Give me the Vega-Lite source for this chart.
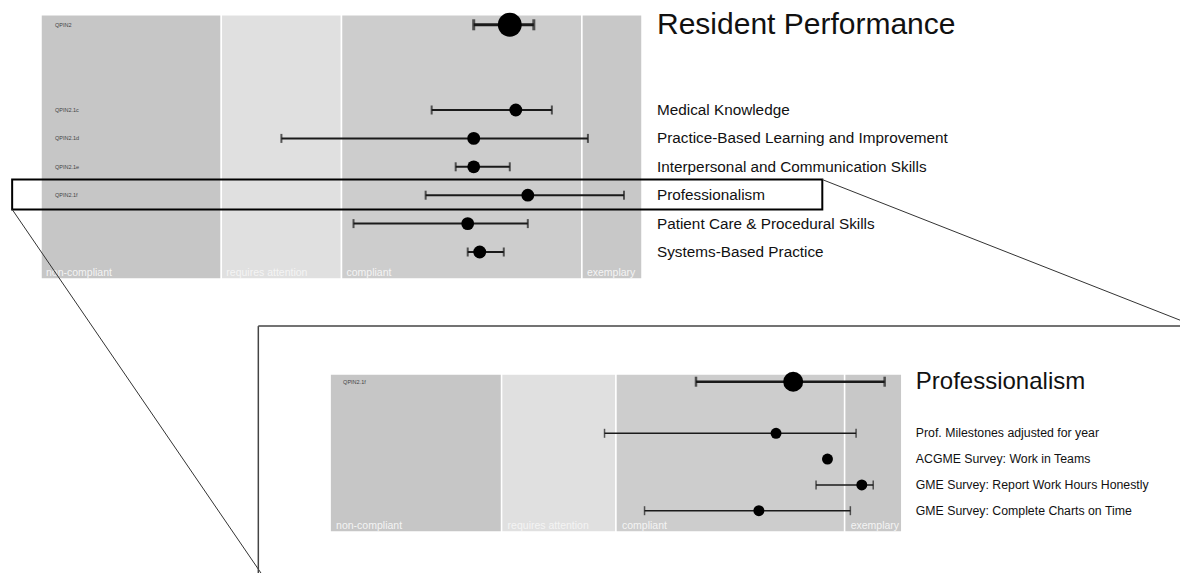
{
  "$schema": "https://vega.github.io/schema/vega-lite/v6.json",
  "width": 1180,
  "height": 573,
  "autosize": {"type": "none"},
  "padding": 0,
  "background": "white",
  "config": {"view": {"stroke": null}, "font": "Liberation Sans"},
  "datasets": {
    "bands": [
      {"band": "non-compliant", "start": 0, "end": 30},
      {"band": "requires attention", "start": 30, "end": 50},
      {"band": "compliant", "start": 50, "end": 90},
      {"band": "exemplary", "start": 90, "end": 100}
    ],
    "top": [
      {"kind": "summary", "code": "QPIN2", "label": "Resident Performance", "row": 0, "score": 78, "lo": 72, "hi": 82},
      {"kind": "detail", "code": "QPIN2.1c", "label": "Medical Knowledge", "row": 3, "score": 79, "lo": 65, "hi": 85},
      {"kind": "detail", "code": "QPIN2.1d", "label": "Practice-Based Learning and Improvement", "row": 4, "score": 72, "lo": 40, "hi": 91},
      {"kind": "detail", "code": "QPIN2.1e", "label": "Interpersonal and Communication Skills", "row": 5, "score": 72, "lo": 69, "hi": 78},
      {"kind": "detail", "code": "QPIN2.1f", "label": "Professionalism", "row": 6, "score": 81, "lo": 64, "hi": 97},
      {"kind": "detail", "code": null, "label": "Patient Care & Procedural Skills", "row": 7, "score": 71, "lo": 52, "hi": 81},
      {"kind": "detail", "code": null, "label": "Systems-Based Practice", "row": 8, "score": 73, "lo": 71, "hi": 77}
    ],
    "bottom": [
      {"kind": "summary", "code": "QPIN2.1f", "label": "Professionalism", "row": 0, "score": 81, "lo": 64, "hi": 97},
      {"kind": "detail", "code": null, "label": "Prof. Milestones adjusted for year", "row": 2, "score": 78, "lo": 48, "hi": 92},
      {"kind": "detail", "code": null, "label": "ACGME Survey: Work in Teams", "row": 3, "score": 87, "lo": null, "hi": null},
      {"kind": "detail", "code": null, "label": "GME Survey: Report Work Hours Honestly", "row": 4, "score": 93, "lo": 85, "hi": 95},
      {"kind": "detail", "code": null, "label": "GME Survey: Complete Charts on Time", "row": 5, "score": 75, "lo": 55, "hi": 91}
    ]
  },
  "resolve": {"scale": {"x": "independent", "y": "independent", "color": "independent"}},
  "layer": [
    {
      "layer": [
        {
          "data": {"name": "bands"},
          "mark": {"type": "rect", "stroke": "white", "strokeWidth": 1.5},
          "encoding": {
            "x": {"field": "start", "type": "quantitative", "scale": {"domain": [-6.822, 189.517], "nice": false, "zero": false}, "axis": null},
            "x2": {"field": "end"},
            "y": {"datum": -0.35, "type": "quantitative", "scale": {"domain": [-0.8732, 19.3028], "nice": false, "zero": false, "reverse": true}, "axis": null},
            "y2": {"datum": 8.95},
            "color": {"field": "band", "type": "nominal", "legend": null, "scale": {"domain": ["non-compliant", "requires attention", "compliant", "exemplary"], "range": ["#c6c6c6", "#e0e0e0", "#cdcdcd", "#c8c8c8"]}}
          }
        },
        {
          "data": {"name": "bands"},
          "mark": {"type": "text", "align": "left", "baseline": "alphabetic", "dx": 5, "dy": -3, "fontSize": 10.5, "color": "#f4f4f4"},
          "encoding": {
            "x": {"field": "start", "type": "quantitative", "scale": {"domain": [-6.822, 189.517], "nice": false, "zero": false}, "axis": null},
            "y": {"datum": 8.95, "type": "quantitative", "scale": {"domain": [-0.8732, 19.3028], "nice": false, "zero": false, "reverse": true}, "axis": null},
            "text": {"field": "band"}
          }
        },
        {
          "data": {"name": "top"},
          "transform": [{"filter": "isValid(datum.code)"}],
          "mark": {"type": "text", "align": "left", "baseline": "middle", "dx": 14, "fontSize": 5.5, "color": "#444"},
          "encoding": {
            "x": {"datum": 0, "type": "quantitative", "scale": {"domain": [-6.822, 189.517], "nice": false, "zero": false}, "axis": null},
            "y": {"field": "row", "type": "quantitative", "scale": {"domain": [-0.8732, 19.3028], "nice": false, "zero": false, "reverse": true}, "axis": null},
            "text": {"field": "code"}
          }
        },
        {
          "data": {"name": "top"},
          "mark": {"type": "rule", "color": "#1a1a1a"},
          "encoding": {
            "x": {"field": "lo", "type": "quantitative", "scale": {"domain": [-6.822, 189.517], "nice": false, "zero": false}, "axis": null},
            "x2": {"field": "hi"},
            "y": {"field": "row", "type": "quantitative", "scale": {"domain": [-0.8732, 19.3028], "nice": false, "zero": false, "reverse": true}, "axis": null},
            "strokeWidth": {"condition": {"test": "datum.kind == 'summary'", "value": 3}, "value": 2}
          }
        },
        {
          "data": {"name": "top"},
          "transform": [{"filter": "datum.kind == 'summary'"}, {"fold": ["lo", "hi"], "as": ["end", "v"]}],
          "mark": {"type": "tick", "orient": "vertical", "thickness": 3, "size": 11, "color": "#1a1a1a"},
          "encoding": {
            "x": {"field": "v", "type": "quantitative", "scale": {"domain": [-6.822, 189.517], "nice": false, "zero": false}, "axis": null},
            "y": {"field": "row", "type": "quantitative", "scale": {"domain": [-0.8732, 19.3028], "nice": false, "zero": false, "reverse": true}, "axis": null}
          }
        },
        {
          "data": {"name": "top"},
          "transform": [{"filter": "datum.kind == 'detail'"}, {"fold": ["lo", "hi"], "as": ["end", "v"]}],
          "mark": {"type": "tick", "orient": "vertical", "thickness": 2, "size": 9, "color": "#1a1a1a"},
          "encoding": {
            "x": {"field": "v", "type": "quantitative", "scale": {"domain": [-6.822, 189.517], "nice": false, "zero": false}, "axis": null},
            "y": {"field": "row", "type": "quantitative", "scale": {"domain": [-0.8732, 19.3028], "nice": false, "zero": false, "reverse": true}, "axis": null}
          }
        },
        {
          "data": {"name": "top"},
          "mark": {"type": "circle", "color": "black", "opacity": 1},
          "encoding": {
            "x": {"field": "score", "type": "quantitative", "scale": {"domain": [-6.822, 189.517], "nice": false, "zero": false}, "axis": null},
            "y": {"field": "row", "type": "quantitative", "scale": {"domain": [-0.8732, 19.3028], "nice": false, "zero": false, "reverse": true}, "axis": null},
            "size": {"condition": {"test": "datum.kind == 'summary'", "value": 570}, "value": 165}
          }
        },
        {
          "data": {"name": "top"},
          "mark": {"type": "text", "align": "left", "baseline": "middle", "dx": 15, "color": "#111"},
          "encoding": {
            "x": {"datum": 100, "type": "quantitative", "scale": {"domain": [-6.822, 189.517], "nice": false, "zero": false}, "axis": null},
            "y": {"field": "row", "type": "quantitative", "scale": {"domain": [-0.8732, 19.3028], "nice": false, "zero": false, "reverse": true}, "axis": null},
            "text": {"field": "label"},
            "size": {"condition": {"test": "datum.kind == 'summary'", "value": 30}, "value": 15.3}
          }
        },
        {
          "data": {"values": [{}]},
          "mark": {"type": "rect", "fill": null, "fillOpacity": 0, "stroke": "black", "strokeWidth": 2},
          "encoding": {
            "x": {"datum": -4.8, "type": "quantitative", "scale": {"domain": [-6.822, 189.517], "nice": false, "zero": false}, "axis": null},
            "x2": {"datum": 130},
            "y": {"datum": 5.45, "type": "quantitative", "scale": {"domain": [-0.8732, 19.3028], "nice": false, "zero": false, "reverse": true}, "axis": null},
            "y2": {"datum": 6.5}
          }
        },
        {
          "data": {"values": [{}]},
          "mark": {"type": "rule", "color": "#333", "strokeWidth": 1},
          "encoding": {
            "x": {"datum": -4.8, "type": "quantitative", "scale": {"domain": [-6.822, 189.517], "nice": false, "zero": false}, "axis": null},
            "x2": {"datum": 36.6},
            "y": {"datum": 6.5, "type": "quantitative", "scale": {"domain": [-0.8732, 19.3028], "nice": false, "zero": false, "reverse": true}, "axis": null},
            "y2": {"datum": 19.3028}
          }
        },
        {
          "data": {"values": [{}]},
          "mark": {"type": "rule", "color": "#333", "strokeWidth": 1},
          "encoding": {
            "x": {"datum": 130, "type": "quantitative", "scale": {"domain": [-6.822, 189.517], "nice": false, "zero": false}, "axis": null},
            "x2": {"datum": 189.517},
            "y": {"datum": 5.45, "type": "quantitative", "scale": {"domain": [-0.8732, 19.3028], "nice": false, "zero": false, "reverse": true}, "axis": null},
            "y2": {"datum": 10.4}
          }
        },
        {
          "data": {"values": [{}]},
          "mark": {"type": "rule", "color": "#444", "strokeWidth": 1.5},
          "encoding": {
            "x": {"datum": 36.16, "type": "quantitative", "scale": {"domain": [-6.822, 189.517], "nice": false, "zero": false}, "axis": null},
            "x2": {"datum": 189.517},
            "y": {"datum": 10.61, "type": "quantitative", "scale": {"domain": [-0.8732, 19.3028], "nice": false, "zero": false, "reverse": true}, "axis": null},
            "y2": {"datum": 10.61}
          }
        },
        {
          "data": {"values": [{}]},
          "mark": {"type": "rule", "color": "#444", "strokeWidth": 1.5},
          "encoding": {
            "x": {"datum": 36.16, "type": "quantitative", "scale": {"domain": [-6.822, 189.517], "nice": false, "zero": false}, "axis": null},
            "x2": {"datum": 36.16},
            "y": {"datum": 10.61, "type": "quantitative", "scale": {"domain": [-0.8732, 19.3028], "nice": false, "zero": false, "reverse": true}, "axis": null},
            "y2": {"datum": 19.3028}
          }
        }
      ]
    },
    {
      "layer": [
        {
          "data": {"name": "bands"},
          "mark": {"type": "rect", "stroke": "white", "strokeWidth": 1.5},
          "encoding": {
            "x": {"field": "start", "type": "quantitative", "scale": {"domain": [-57.74, 148.66], "nice": false, "zero": false}, "axis": null},
            "x2": {"field": "end"},
            "y": {"datum": -0.3, "type": "quantitative", "scale": {"domain": [-14.7946, 7.4147], "nice": false, "zero": false, "reverse": true}, "axis": null},
            "y2": {"datum": 5.83},
            "color": {"field": "band", "type": "nominal", "legend": null, "scale": {"domain": ["non-compliant", "requires attention", "compliant", "exemplary"], "range": ["#c6c6c6", "#e0e0e0", "#cdcdcd", "#c8c8c8"]}}
          }
        },
        {
          "data": {"name": "bands"},
          "mark": {"type": "text", "align": "left", "baseline": "alphabetic", "dx": 6, "dy": -3, "fontSize": 10.5, "color": "#f4f4f4"},
          "encoding": {
            "x": {"field": "start", "type": "quantitative", "scale": {"domain": [-57.74, 148.66], "nice": false, "zero": false}, "axis": null},
            "y": {"datum": 5.83, "type": "quantitative", "scale": {"domain": [-14.7946, 7.4147], "nice": false, "zero": false, "reverse": true}, "axis": null},
            "text": {"field": "band"}
          }
        },
        {
          "data": {"name": "bottom"},
          "transform": [{"filter": "isValid(datum.code)"}],
          "mark": {"type": "text", "align": "left", "baseline": "middle", "dx": 13, "fontSize": 5.5, "color": "#444"},
          "encoding": {
            "x": {"datum": 0, "type": "quantitative", "scale": {"domain": [-57.74, 148.66], "nice": false, "zero": false}, "axis": null},
            "y": {"field": "row", "type": "quantitative", "scale": {"domain": [-14.7946, 7.4147], "nice": false, "zero": false, "reverse": true}, "axis": null},
            "text": {"field": "code"}
          }
        },
        {
          "data": {"name": "bottom"},
          "mark": {"type": "rule", "color": "#1a1a1a"},
          "encoding": {
            "x": {"field": "lo", "type": "quantitative", "scale": {"domain": [-57.74, 148.66], "nice": false, "zero": false}, "axis": null},
            "x2": {"field": "hi"},
            "y": {"field": "row", "type": "quantitative", "scale": {"domain": [-14.7946, 7.4147], "nice": false, "zero": false, "reverse": true}, "axis": null},
            "strokeWidth": {"condition": {"test": "datum.kind == 'summary'", "value": 2.5}, "value": 1.5}
          }
        },
        {
          "data": {"name": "bottom"},
          "transform": [{"filter": "datum.kind == 'summary'"}, {"fold": ["lo", "hi"], "as": ["end", "v"]}],
          "mark": {"type": "tick", "orient": "vertical", "thickness": 2.5, "size": 10, "color": "#1a1a1a"},
          "encoding": {
            "x": {"field": "v", "type": "quantitative", "scale": {"domain": [-57.74, 148.66], "nice": false, "zero": false}, "axis": null},
            "y": {"field": "row", "type": "quantitative", "scale": {"domain": [-14.7946, 7.4147], "nice": false, "zero": false, "reverse": true}, "axis": null}
          }
        },
        {
          "data": {"name": "bottom"},
          "transform": [{"filter": "datum.kind == 'detail'"}, {"fold": ["lo", "hi"], "as": ["end", "v"]}],
          "mark": {"type": "tick", "orient": "vertical", "thickness": 1.5, "size": 9, "color": "#1a1a1a"},
          "encoding": {
            "x": {"field": "v", "type": "quantitative", "scale": {"domain": [-57.74, 148.66], "nice": false, "zero": false}, "axis": null},
            "y": {"field": "row", "type": "quantitative", "scale": {"domain": [-14.7946, 7.4147], "nice": false, "zero": false, "reverse": true}, "axis": null}
          }
        },
        {
          "data": {"name": "bottom"},
          "mark": {"type": "circle", "color": "black", "opacity": 1},
          "encoding": {
            "x": {"field": "score", "type": "quantitative", "scale": {"domain": [-57.74, 148.66], "nice": false, "zero": false}, "axis": null},
            "y": {"field": "row", "type": "quantitative", "scale": {"domain": [-14.7946, 7.4147], "nice": false, "zero": false, "reverse": true}, "axis": null},
            "size": {"condition": {"test": "datum.kind == 'summary'", "value": 400}, "value": 120}
          }
        },
        {
          "data": {"name": "bottom"},
          "mark": {"type": "text", "align": "left", "baseline": "middle", "dx": 14, "color": "#111"},
          "encoding": {
            "x": {"datum": 100, "type": "quantitative", "scale": {"domain": [-57.74, 148.66], "nice": false, "zero": false}, "axis": null},
            "y": {"field": "row", "type": "quantitative", "scale": {"domain": [-14.7946, 7.4147], "nice": false, "zero": false, "reverse": true}, "axis": null},
            "text": {"field": "label"},
            "size": {"condition": {"test": "datum.kind == 'summary'", "value": 24}, "value": 12.3}
          }
        }
      ]
    }
  ]
}
